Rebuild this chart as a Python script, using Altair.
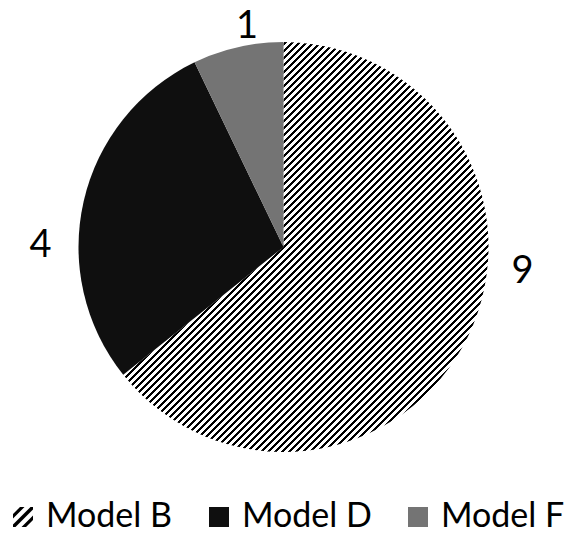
import altair as alt
import pandas as pd

# Share of units per model
models = ["Model B", "Model D", "Model F"]
counts = [9, 4, 1]

df = pd.DataFrame({"Model": models, "Count": counts, "idx": list(range(len(models)))})

# Fills: diagonal hatch for B, near-black for D, mid gray for F
D_FILL = "#0f0f0f"
F_FILL = "#747474"


def hatch_gradient(periods=105, duty=0.45):
    """Striped linear gradient that reads as a '/' hatch."""
    stops = []
    for k in range(periods):
        a = k / periods
        b = (k + duty) / periods
        c = (k + 1) / periods
        stops += [
            alt.GradientStop(color="#000000", offset=a),
            alt.GradientStop(color="#000000", offset=b),
            alt.GradientStop(color="#ffffff", offset=b),
            alt.GradientStop(color="#ffffff", offset=c),
        ]
    return alt.LinearGradient(gradient="linear", stops=stops, x1=0, y1=0, x2=0.89, y2=1)


# Legend glyph for the hatched series: three '/' bars inside the unit square
HATCH_PATH = (
    "M-1,-0.3L-0.3,-1L0.15,-1L-1,0.15Z "
    "M-1,0.75L0.75,-1L1,-1L1,-0.75L-0.75,1L-1,1Z "
    "M-0.15,1L1,-0.15L1,0.3L0.3,1Z"
)

legend_opts = dict(
    title=None,
    orient="none",
    legendX=6,
    legendY=500,
    padding=0,
    direction="horizontal",
    symbolSize=400,
    symbolStrokeWidth=0,
    symbolOpacity=1,
    labelFont="Lato",
    labelFontSize=34,
    labelColor="#000000",
    labelOffset=6,
    labelLimit=300,
    columnPadding=29,
)

# Tiny points hidden under the pie; they only carry the legend
legend_layer = alt.Chart(df).mark_point(filled=True, size=20).encode(
    color=alt.Color(
        "Model:N",
        scale=alt.Scale(domain=models, range=["#000000", D_FILL, F_FILL]),
        legend=alt.Legend(**legend_opts),
    ),
    shape=alt.Shape(
        "Model:N",
        scale=alt.Scale(domain=models, range=[HATCH_PATH, "square", "square"]),
        legend=alt.Legend(**legend_opts),
    ),
)

fill_rule = (
    alt.when(alt.datum.Model == "Model B")
    .then(alt.value(hatch_gradient()))
    .when(alt.datum.Model == "Model D")
    .then(alt.value(D_FILL))
    .otherwise(alt.value(F_FILL))
)

pie = alt.Chart(df).mark_arc(radius=205).encode(
    theta=alt.Theta("Count:Q", stack=True),
    order=alt.Order("idx:Q", sort="ascending"),
    detail="Model:N",
    fill=fill_rule,
)

labels = alt.Chart(df).mark_text(
    font="Lato",
    fontSize=38,
    color="#000000",
    align="center",
    baseline="middle",
    dy=4,
    radius=alt.expr("datum.Model === 'Model F' ? 227 : datum.Model === 'Model D' ? 243 : 240"),
    thetaOffset=alt.expr("datum.Model === 'Model B' ? -0.361 : datum.Model === 'Model D' ? -0.204 : 0.063"),
).encode(
    theta=alt.Theta("Count:Q", stack=True),
    order=alt.Order("idx:Q", sort="ascending"),
    detail="Model:N",
    text="Count:Q",
)

chart = (
    alt.layer(legend_layer, pie, labels)
    .properties(
        width=567,
        height=494,
        autosize="none",
        padding={"left": 0, "right": 0, "top": 0, "bottom": 39},
    )
    .configure_view(stroke=None)
)

chart.save("out.html", embed_options={"renderer": "svg", "actions": False})
